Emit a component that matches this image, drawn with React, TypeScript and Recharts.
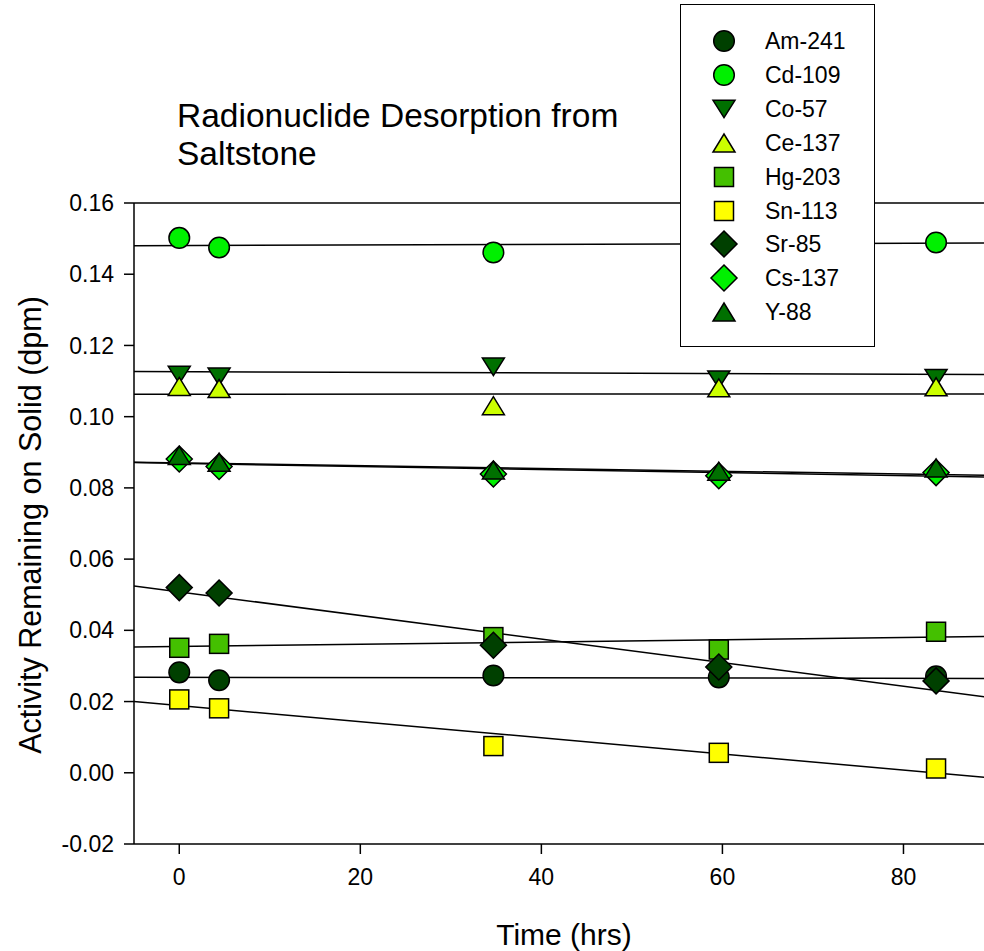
import React from 'react';
import { ComposedChart, Line, Scatter, XAxis, YAxis, ReferenceLine, Legend } from 'recharts';

// ---- data ----
const times = [0, 4.4, 34.7, 59.6, 83.6];
const seriesNames = ['Am-241', 'Cd-109', 'Co-57', 'Ce-137', 'Hg-203', 'Sn-113', 'Sr-85', 'Cs-137', 'Y-88'];

const am241 = [0.0282, 0.026, 0.0273, 0.0268, 0.0271];
const cd109 = [0.1502, 0.1475, 0.1461, 0.15, 0.1489];
const co57 = [0.1117, 0.1112, 0.114, 0.1104, 0.1108];
const ce137 = [0.1085, 0.1079, 0.1031, 0.1081, 0.1084];
const hg203 = [0.0351, 0.0362, 0.0381, 0.0346, 0.0396];
const sn113 = [0.0206, 0.0181, 0.0075, 0.0056, 0.0012];
const sr85 = [0.052, 0.0505, 0.0358, 0.0297, 0.0258];
const cs137 = [0.0881, 0.086, 0.0839, 0.0834, 0.0843];
const y88 = [0.0891, 0.0872, 0.085, 0.0847, 0.0856];

// regression lines (value at start and end of the time axis)
const fitTimes = [-5, 90];
const am241Fit = [0.0268, 0.0265];
const cd109Fit = [0.148, 0.1488];
const co57Fit = [0.1127, 0.1118];
const ce137Fit = [0.1063, 0.1064];
const hg203Fit = [0.0353, 0.0383];
const sn113Fit = [0.02, -0.0015];
const sr85Fit = [0.05245, 0.021];
const cs137Fit = [0.0871, 0.083];
const y88Fit = [0.0872, 0.0835];

const xTicks = [0, 20, 40, 60, 80];
const yTicks = [-0.02, 0, 0.02, 0.04, 0.06, 0.08, 0.1, 0.12, 0.14, 0.16];

const seriesValues = [am241, cd109, co57, ce137, hg203, sn113, sr85, cs137, y88];
const seriesFits = [am241Fit, cd109Fit, co57Fit, ce137Fit, hg203Fit, sn113Fit, sr85Fit, cs137Fit, y88Fit];
const colors = ['#004000', '#00F000', '#007000', '#CCFF00', '#44C000', '#FFFF00', '#004000', '#00F000', '#007000'];
const shapes = ['circle', 'circle', 'down', 'up', 'square', 'square', 'diamond', 'diamond', 'up'];

const FONT = '"Liberation Sans", Arial, sans-serif';

function Marker({ kind, cx, cy, fill }: { kind: string; cx: number; cy: number; fill: string }) {
  const s = { fill, stroke: '#000', strokeWidth: 1.5 };
  if (kind === 'circle') return <circle cx={cx} cy={cy} r={10.3} {...s} />;
  if (kind === 'square') return <rect x={cx - 9.5} y={cy - 9.5} width={19} height={19} {...s} />;
  if (kind === 'down')
    return <polygon points={`${cx - 11},${cy - 8.7} ${cx + 11},${cy - 8.7} ${cx},${cy + 8.7}`} {...s} />;
  if (kind === 'up')
    return <polygon points={`${cx - 11},${cy + 9} ${cx + 11},${cy + 9} ${cx},${cy - 9}`} {...s} />;
  return <polygon points={`${cx},${cy - 13} ${cx + 13},${cy} ${cx},${cy + 13} ${cx - 13},${cy}`} {...s} />;
}

const LegendBox = () => (
  <div
    style={{
      width: 193,
      height: 341,
      border: '1.5px solid #000',
      background: '#fff',
      boxSizing: 'content-box',
      position: 'relative',
      fontFamily: FONT,
    }}
  >
    {seriesNames.map((name, i) => (
      <div key={name} style={{ position: 'absolute', left: 0, top: 36 + i * 33.9 - 17, height: 34, width: 193 }}>
        <svg width={40} height={34} style={{ position: 'absolute', left: 22, top: 0 }}>
          <Marker kind={shapes[i]} cx={21} cy={17} fill={colors[i]} />
        </svg>
        <span
          style={{
            position: 'absolute',
            left: 84,
            top: 0,
            lineHeight: '34px',
            fontSize: 23,
            color: '#000',
            whiteSpace: 'nowrap',
          }}
        >
          {name}
        </span>
      </div>
    ))}
  </div>
);

export default function App() {
  return (
    <div
      style={{
        position: 'absolute',
        left: 0,
        top: 0,
        width: 984,
        height: 951,
        overflow: 'hidden',
        background: '#fff',
        fontFamily: FONT,
      }}
    >
      <ComposedChart
        width={1000}
        height={951}
        margin={{ top: 203, right: 6, bottom: 47, left: 34 }}
        style={{ fontFamily: FONT }}
      >
        <XAxis
          type="number"
          dataKey="x"
          domain={[-5, 90]}
          ticks={xTicks}
          allowDataOverflow
          height={60}
          tickSize={10}
          tickMargin={15}
          axisLine={{ stroke: '#000', strokeWidth: 1.5 }}
          tickLine={{ stroke: '#000', strokeWidth: 1.5 }}
          tick={{ fill: '#000', fontSize: 23, fontFamily: FONT }}
        />
        <YAxis
          type="number"
          dataKey="y"
          domain={[-0.02, 0.16]}
          ticks={yTicks}
          allowDataOverflow
          width={100}
          tickSize={10}
          tickMargin={10}
          tickFormatter={(v: number) => v.toFixed(2)}
          axisLine={{ stroke: '#000', strokeWidth: 1.5 }}
          tickLine={{ stroke: '#000', strokeWidth: 1.5 }}
          tick={{ fill: '#000', fontSize: 23, fontFamily: FONT }}
        />
        <ReferenceLine y={0.16} stroke="#000" strokeWidth={1.5} />
        {seriesFits.map((fit, i) => (
          <Line
            key={'fit' + i}
            data={fitTimes.map((t, j) => ({ x: t, y: fit[j] }))}
            dataKey="y"
            type="linear"
            stroke="#000"
            strokeWidth={1.5}
            dot={false}
            activeDot={false}
            legendType="none"
            isAnimationActive={false}
          />
        ))}
        {seriesValues.map((vals, i) => (
          <Scatter
            key={seriesNames[i]}
            name={seriesNames[i]}
            data={times.map((t, j) => ({ x: t, y: vals[j] }))}
            fill={colors[i]}
            isAnimationActive={false}
            shape={(p: any) => <Marker kind={shapes[i]} cx={p.cx} cy={p.cy} fill={colors[i]} />}
          />
        ))}
        <Legend
          layout="vertical"
          align="center"
          verticalAlign="middle"
          content={() => <LegendBox />}
          wrapperStyle={{ position: 'absolute', left: 680, top: 4, width: 196, height: 344 }}
        />
      </ComposedChart>
      <div
        style={{
          position: 'absolute',
          left: 177,
          top: 97,
          fontSize: 33.5,
          lineHeight: '38px',
          color: '#000',
          whiteSpace: 'nowrap',
        }}
      >
        Radionuclide Desorption from
        <br />
        Saltstone
      </div>
      <div
        style={{
          position: 'absolute',
          left: 564,
          top: 935,
          transform: 'translate(-50%, -50%)',
          fontSize: 30,
          lineHeight: '34px',
          color: '#000',
          whiteSpace: 'nowrap',
        }}
      >
        Time (hrs)
      </div>
      <div
        style={{
          position: 'absolute',
          left: 30,
          top: 525,
          transform: 'translate(-50%, -50%) rotate(-90deg)',
          fontSize: 30.5,
          lineHeight: '34px',
          color: '#000',
          whiteSpace: 'nowrap',
        }}
      >
        Activity Remaining on Solid (dpm)
      </div>
    </div>
  );
}
